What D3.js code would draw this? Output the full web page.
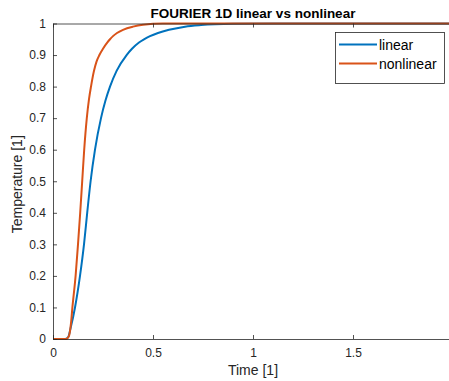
<!DOCTYPE html>
<html>
<head>
<meta charset="utf-8">
<script src="https://cdn.jsdelivr.net/npm/d3@7/dist/d3.min.js"></script>
<style>
  html, body { margin: 0; padding: 0; background: #fff; overflow: hidden; }
  svg { display: block; font-family: "Liberation Sans", Arial, Helvetica, sans-serif; }
</style>
</head>
<body>
<svg id="chart" width="449" height="381"></svg>
<script>
// Temperature response over time, linear vs nonlinear 1D Fourier model
const linearTime = [0, 0.06, 0.075, 0.09, 0.11, 0.135, 0.155, 0.171, 0.188, 0.21, 0.24, 0.262, 0.285, 0.318, 0.368, 0.395, 0.43, 0.455, 0.485, 0.525, 0.58, 0.66, 0.74, 0.9, 1.1, 2.0];
const linearTemp = [0, 0, 0.005, 0.04, 0.1, 0.2, 0.3, 0.4, 0.5, 0.6, 0.7, 0.755, 0.8, 0.85, 0.9, 0.92, 0.94, 0.95, 0.96, 0.97, 0.98, 0.99, 0.995, 0.999, 1, 1];

const nonlinearTime = [0, 0.065, 0.08, 0.09, 0.097, 0.113, 0.125, 0.136, 0.146, 0.156, 0.169, 0.18, 0.19, 0.205, 0.218, 0.232, 0.25, 0.272, 0.285, 0.3, 0.32, 0.35, 0.4, 0.45, 0.55, 2.0];
const nonlinearTemp = [0, 0, 0.01, 0.05, 0.1, 0.2, 0.3, 0.4, 0.5, 0.6, 0.7, 0.76, 0.8, 0.85, 0.88, 0.9, 0.92, 0.94, 0.95, 0.96, 0.97, 0.98, 0.99, 0.996, 1, 1];

const xTicks = [0, 0.5, 1, 1.5];
const xTickLabels = ["0", "0.5", "1", "1.5"];
const yTicks = [0, 0.1, 0.2, 0.3, 0.4, 0.5, 0.6, 0.7, 0.8, 0.9, 1];
const yTickLabels = ["0", "0.1", "0.2", "0.3", "0.4", "0.5", "0.6", "0.7", "0.8", "0.9", "1"];

const seriesNames = ["linear", "nonlinear"];
const seriesColors = ["#0072BD", "#D95319"];

const svg = d3.select("#chart");
const plotLeft = 53, plotRight = 453, plotTop = 23.5, plotBottom = 339;
const axisColor = "#262626";

const x = d3.scaleLinear().domain([0, 2]).range([plotLeft, plotRight]);
const y = d3.scaleLinear().domain([0, 1]).range([plotBottom, plotTop]);

const series = [
  { name: seriesNames[0], color: seriesColors[0], pts: linearTime.map((t, i) => [t, linearTemp[i]]) },
  { name: seriesNames[1], color: seriesColors[1], pts: nonlinearTime.map((t, i) => [t, nonlinearTemp[i]]) }
];

svg.append("clipPath").attr("id", "plotclip")
  .append("rect").attr("x", plotLeft).attr("y", plotTop - 2)
  .attr("width", plotRight - plotLeft).attr("height", plotBottom - plotTop + 4);

// curves
const line = d3.line().x(d => x(d[0])).y(d => y(d[1])).curve(d3.curveMonotoneX);
svg.append("g").attr("clip-path", "url(#plotclip)")
  .selectAll("path").data(series).join("path")
  .attr("d", d => line(d.pts))
  .attr("fill", "none")
  .attr("stroke", d => d.color)
  .attr("stroke-width", 2)
  .attr("stroke-linejoin", "round");

// axes (ticks point inward)
const xAxis = d3.axisBottom(x).tickValues(xTicks).tickFormat((d, i) => xTickLabels[i]).tickSizeInner(-4).tickSizeOuter(0).tickPadding(9);
const gx = svg.append("g").attr("transform", `translate(0,${plotBottom})`).call(xAxis);
const xTop = d3.axisTop(x).tickValues(xTicks).tickFormat("").tickSizeInner(-4).tickSizeOuter(0);
const gxt = svg.append("g").attr("transform", `translate(0,${plotTop})`).call(xTop);
const yAxis = d3.axisLeft(y).tickValues(yTicks).tickFormat((d, i) => yTickLabels[i]).tickSizeInner(-4).tickSizeOuter(0).tickPadding(7);
const gy = svg.append("g").attr("transform", `translate(${plotLeft},0)`).call(yAxis);

[gx, gxt, gy].forEach(g => {
  g.select(".domain").attr("stroke", axisColor).attr("stroke-width", 0.8);
  g.selectAll(".tick line").attr("stroke", axisColor).attr("stroke-width", 0.8);
  g.selectAll(".tick text").attr("fill", axisColor).attr("font-size", 12).attr("font-family", "Liberation Sans, Arial, sans-serif");
});

// title and labels
svg.append("text").attr("x", (plotLeft + plotRight) / 2).attr("y", 18)
  .attr("text-anchor", "middle").attr("font-weight", "bold").attr("font-size", 13.5)
  .attr("fill", "#000").text("FOURIER 1D linear vs nonlinear");
svg.append("text").attr("x", (plotLeft + plotRight) / 2).attr("y", 375)
  .attr("text-anchor", "middle").attr("font-size", 14)
  .attr("fill", axisColor).text("Time [1]");
svg.append("text").attr("transform", `translate(22,${(plotTop + plotBottom) / 2 + 3}) rotate(-90)`)
  .attr("text-anchor", "middle").attr("font-size", 14)
  .attr("fill", axisColor).text("Temperature [1]");

// legend
const lg = svg.append("g");
lg.append("rect").attr("x", 335.5).attr("y", 32.5).attr("width", 109).attr("height", 51)
  .attr("fill", "#fff").attr("stroke", axisColor).attr("stroke-width", 0.8);
series.forEach((s, i) => {
  const cy = 44.5 + i * 19;
  lg.append("line").attr("x1", 339).attr("x2", 377).attr("y1", cy).attr("y2", cy)
    .attr("stroke", s.color).attr("stroke-width", 2);
  lg.append("text").attr("x", 379).attr("y", cy + 5).attr("font-size", 14)
    .attr("fill", "#000").text(s.name);
});
</script>
</body>
</html>
